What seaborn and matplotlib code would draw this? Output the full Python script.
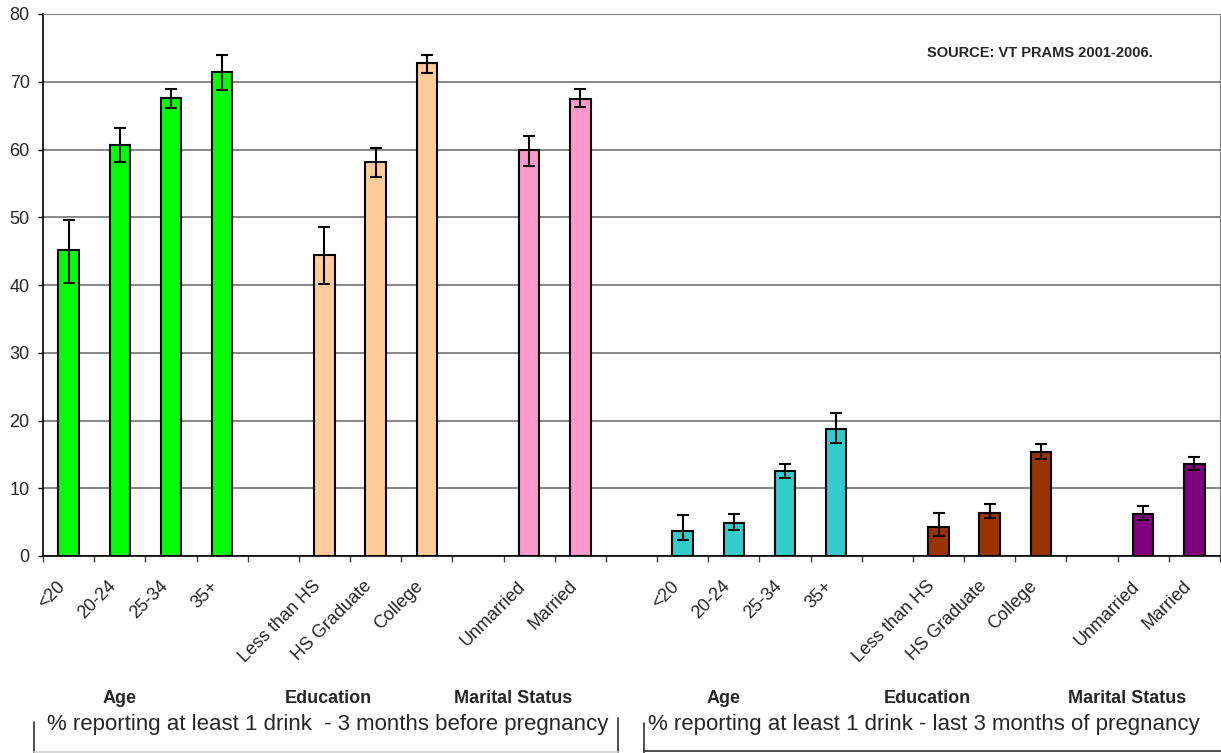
# VT PRAMS - alcohol use before and during pregnancy, by age, education, marital status

import numpy as np
import pandas as pd
import matplotlib
matplotlib.use('Agg')
import matplotlib.pyplot as plt
from matplotlib.lines import Line2D
from matplotlib.transforms import ScaledTranslation
import seaborn as sns

# Category labels
labels_age = ['<20', '20-24', '25-34', '35+']
labels_edu = ['Less than HS', 'HS Graduate', 'College']
labels_mar = ['Unmarried', 'Married']
group_names = ['Age', 'Education', 'Marital Status']

# 3 months before pregnancy (%), with lower / upper confidence limits
before_age = [45.1, 60.6, 67.6, 71.4]
before_age_lo = [40.3, 58.1, 66.1, 68.8]
before_age_hi = [49.6, 63.2, 69.0, 73.9]
before_edu = [44.4, 58.1, 72.7]
before_edu_lo = [40.1, 56.0, 71.3]
before_edu_hi = [48.6, 60.2, 74.0]
before_mar = [59.9, 67.5]
before_mar_lo = [57.6, 66.2]
before_mar_hi = [62.0, 68.9]

# last 3 months of pregnancy (%)
during_age = [3.7, 4.9, 12.6, 18.8]
during_age_lo = [2.3, 3.8, 11.5, 16.7]
during_age_hi = [6.0, 6.2, 13.6, 21.1]
during_edu = [4.3, 6.4, 15.3]
during_edu_lo = [2.9, 5.6, 14.3]
during_edu_hi = [6.3, 7.7, 16.5]
during_mar = [6.2, 13.6]
during_mar_lo = [5.3, 12.7]
during_mar_hi = [7.4, 14.6]

period_titles = ['% reporting at least 1 drink  - 3 months before pregnancy',
                 '% reporting at least 1 drink - last 3 months of pregnancy']
source_note = 'SOURCE: VT PRAMS 2001-2006.'

colors = {'before|Age': '#00FF00', 'before|Education': '#FFCC99',
          'before|Marital Status': '#FF99CC', 'during|Age': '#33CCCC',
          'during|Education': '#993300', 'during|Marital Status': '#800080'}

# Build the long table, with an empty slot between groups
series = [
    ('before', 'Age', labels_age, before_age, before_age_lo, before_age_hi),
    ('before', 'Education', labels_edu, before_edu, before_edu_lo, before_edu_hi),
    ('before', 'Marital Status', labels_mar, before_mar, before_mar_lo, before_mar_hi),
    ('during', 'Age', labels_age, during_age, during_age_lo, during_age_hi),
    ('during', 'Education', labels_edu, during_edu, during_edu_lo, during_edu_hi),
    ('during', 'Marital Status', labels_mar, during_mar, during_mar_lo, during_mar_hi),
]
rows = []
order = []
tick_text = []
for n, (period, group, labels, vals, lo, hi) in enumerate(series):
    for lab, v, l, h in zip(labels, vals, lo, hi):
        key = f'{period}|{group}|{lab}'
        rows.append({'key': key, 'series': f'{period}|{group}', 'label': lab,
                     'pct': v, 'lo': l, 'hi': h})
        order.append(key)
        tick_text.append(lab)
    if n < len(series) - 1:
        order.append(f'{period}|{group}|gap')  # blank slot
        tick_text.append('')
df = pd.DataFrame(rows)

sns.set_style('white')
plt.rcParams['font.family'] = ['Liberation Sans', 'DejaVu Sans']

W, H = 1221, 753
fig = plt.figure(figsize=(W / 100, H / 100), dpi=100)
ax = fig.add_axes([43 / W, 1 - 556 / H, 1177 / W, 542 / H])

sns.barplot(data=df, x='key', y='pct', hue='series', order=order, palette=colors,
            dodge=False, width=0.4, saturation=1, edgecolor='black', linewidth=1.5,
            errorbar=None, legend=False, ax=ax, zorder=3)

# asymmetric error bars
xpos = [order.index(k) for k in df['key']]
yerr = [df['pct'] - df['lo'], df['hi'] - df['pct']]
ax.errorbar(xpos, df['pct'], yerr=yerr, fmt='none', ecolor='black',
            elinewidth=1.5, capsize=4, capthick=1.5, zorder=4)

# axes styling
ax.set_ylim(0, 80)
ax.set_xlim(-0.5, len(order) - 0.5)
ax.set_yticks(range(0, 81, 10))
ax.yaxis.grid(True, color='#666666', linewidth=1.1, zorder=0)
ax.set_axisbelow(True)
ax.set_xlabel('')
ax.set_ylabel('')
for side in ['top', 'right']:
    ax.spines[side].set_color('#808080')
for side in ['left', 'bottom']:
    ax.spines[side].set_color('black')
    ax.spines[side].set_linewidth(1.2)

ax.set_xticks(range(len(order)))
ax.set_xticklabels(tick_text)
ax.set_xticks(np.arange(-0.5, len(order)), minor=True)
ax.tick_params(axis='x', which='major', length=0, pad=20, labelsize=13)
ax.tick_params(axis='x', which='minor', length=4.5, width=1, color='#404040',
               direction='out', bottom=True)
ax.tick_params(axis='y', length=3.6, width=1, color='black', direction='out',
               left=True, labelsize=13, pad=6)
shift = ScaledTranslation(-0.06, 0, fig.dpi_scale_trans)
for lbl in ax.get_xticklabels():
    lbl.set_rotation(45)
    lbl.set_ha('right')
    lbl.set_va('center')
    lbl.set_rotation_mode('anchor')
    lbl.set_transform(lbl.get_transform() + shift)

# group captions under the axis
group_x = [120, 328, 513, 724, 927, 1127]
for x, name in zip(group_x, group_names * 2):
    fig.text(x / W, 1 - 703 / H, name, ha='center', va='baseline',
             fontsize=13, fontweight='bold')

fig.text(47 / W, 1 - 730 / H, period_titles[0], ha='left', va='baseline', fontsize=16)
fig.text(648 / W, 1 - 730 / H, period_titles[1], ha='left', va='baseline', fontsize=16)
fig.text(927 / W, 1 - 53 / H, source_note, ha='left', va='center',
         fontsize=10.5, fontweight='bold')


# partial text-box borders at the bottom
def px_line(x0, y0, x1, y1, color):
    fig.add_artist(Line2D([x0 / W, x1 / W], [1 - y0 / H, 1 - y1 / H],
                          transform=fig.transFigure, color=color, linewidth=1.2))


px_line(34, 722, 34, 753, '#303030')
px_line(618, 718, 618, 753, '#303030')
px_line(34, 752, 618, 752, '#d0d0d0')
px_line(644, 723, 644, 753, '#303030')
px_line(644, 751, 1221, 751, '#303030')

fig.savefig('out.png', dpi=100)
